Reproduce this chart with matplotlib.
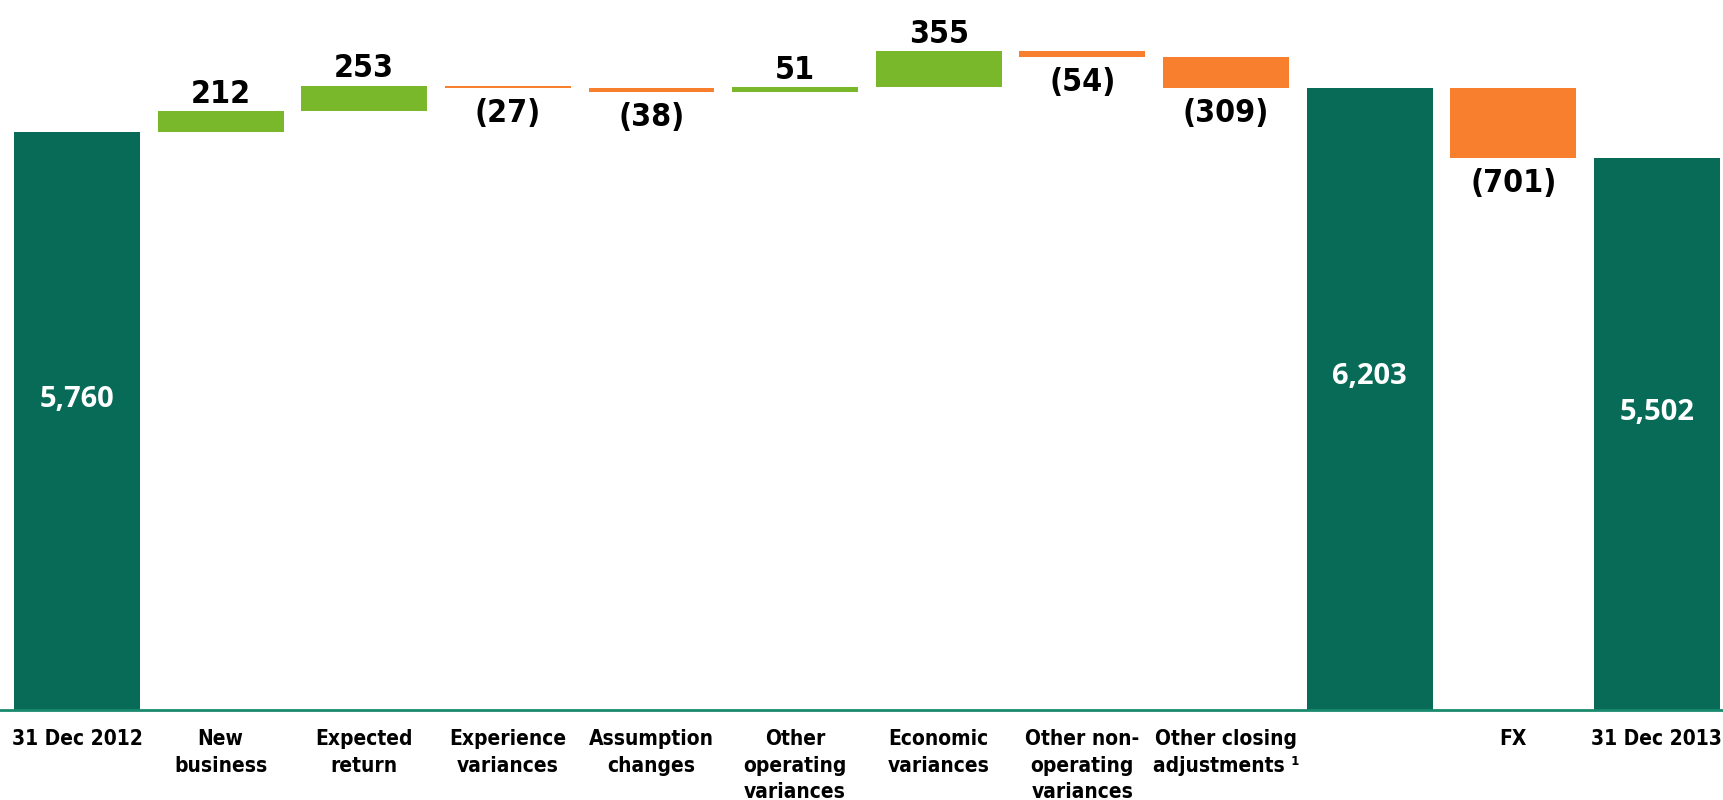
import numpy as np
import matplotlib
matplotlib.use("Agg")
import matplotlib.pyplot as plt

# Movimientos del valor (5,760 -> 6,203 -> 5,502)
categorias = ["31 Dec 2012", "New\nbusiness", "Expected\nreturn",
              "Experience\nvariances", "Assumption\nchanges",
              "Other\noperating\nvariances", "Economic\nvariances",
              "Other non-\noperating\nvariances", "Other closing\nadjustments \u00b9",
              "", "FX", "31 Dec 2013"]
valores = [5760, 212, 253, -27, -38, 51, 355, -54, -309, 6203, -701, 5502]
es_total = [True, False, False, False, False, False, False, False, False,
            True, False, True]

VERDE_OSC = "#076b58"
VERDE_CLARO = "#78b82a"
NARANJA = "#f77f2e"
EJE = "#1a8a6e"

COND = dict(family="DejaVu Sans", stretch="condensed", weight="bold")

fig = plt.figure(figsize=(17.23, 8.0), dpi=100)
ax = fig.add_axes([0.0, 90 / 800, 1.0, 710 / 800])

x = np.arange(len(valores))
ancho = 0.877
acum = 0
for i, (v, tot) in enumerate(zip(valores, es_total)):
    if tot:
        ax.bar(i, v, width=ancho, bottom=0, color=VERDE_OSC, edgecolor="none")
        ax.text(i, v / 2 + 220, f"{v:,}", ha="center", va="center",
                color="white", fontsize=21, fontweight="bold", family="Open Sans")
        acum = v
        continue
    base = acum if v >= 0 else acum + v
    color = VERDE_CLARO if v >= 0 else NARANJA
    ax.bar(i, abs(v), width=ancho, bottom=base, color=color, edgecolor="none")
    if v >= 0:
        ax.annotate(f"{v}", (i, acum + v), xytext=(0, 1), textcoords="offset points",
                    ha="center", va="bottom", fontsize=23, **COND)
    else:
        ax.annotate(f"({-v})", (i, acum + v), xytext=(0, -7), textcoords="offset points",
                    ha="center", va="top", fontsize=23, **COND)
    acum += v

ax.set_xlim(-0.536, 11.46)
ax.set_ylim(0, 7079)
ax.set_xticks(x)
ax.set_xticklabels(categorias, fontsize=15, linespacing=1.4, **COND)
ax.tick_params(axis="x", length=0, pad=14)
ax.set_yticks([])
for lado in ("top", "right", "left"):
    ax.spines[lado].set_visible(False)
ax.spines["bottom"].set_color(EJE)
ax.spines["bottom"].set_linewidth(2)

fig.savefig("out.png", dpi=100)
